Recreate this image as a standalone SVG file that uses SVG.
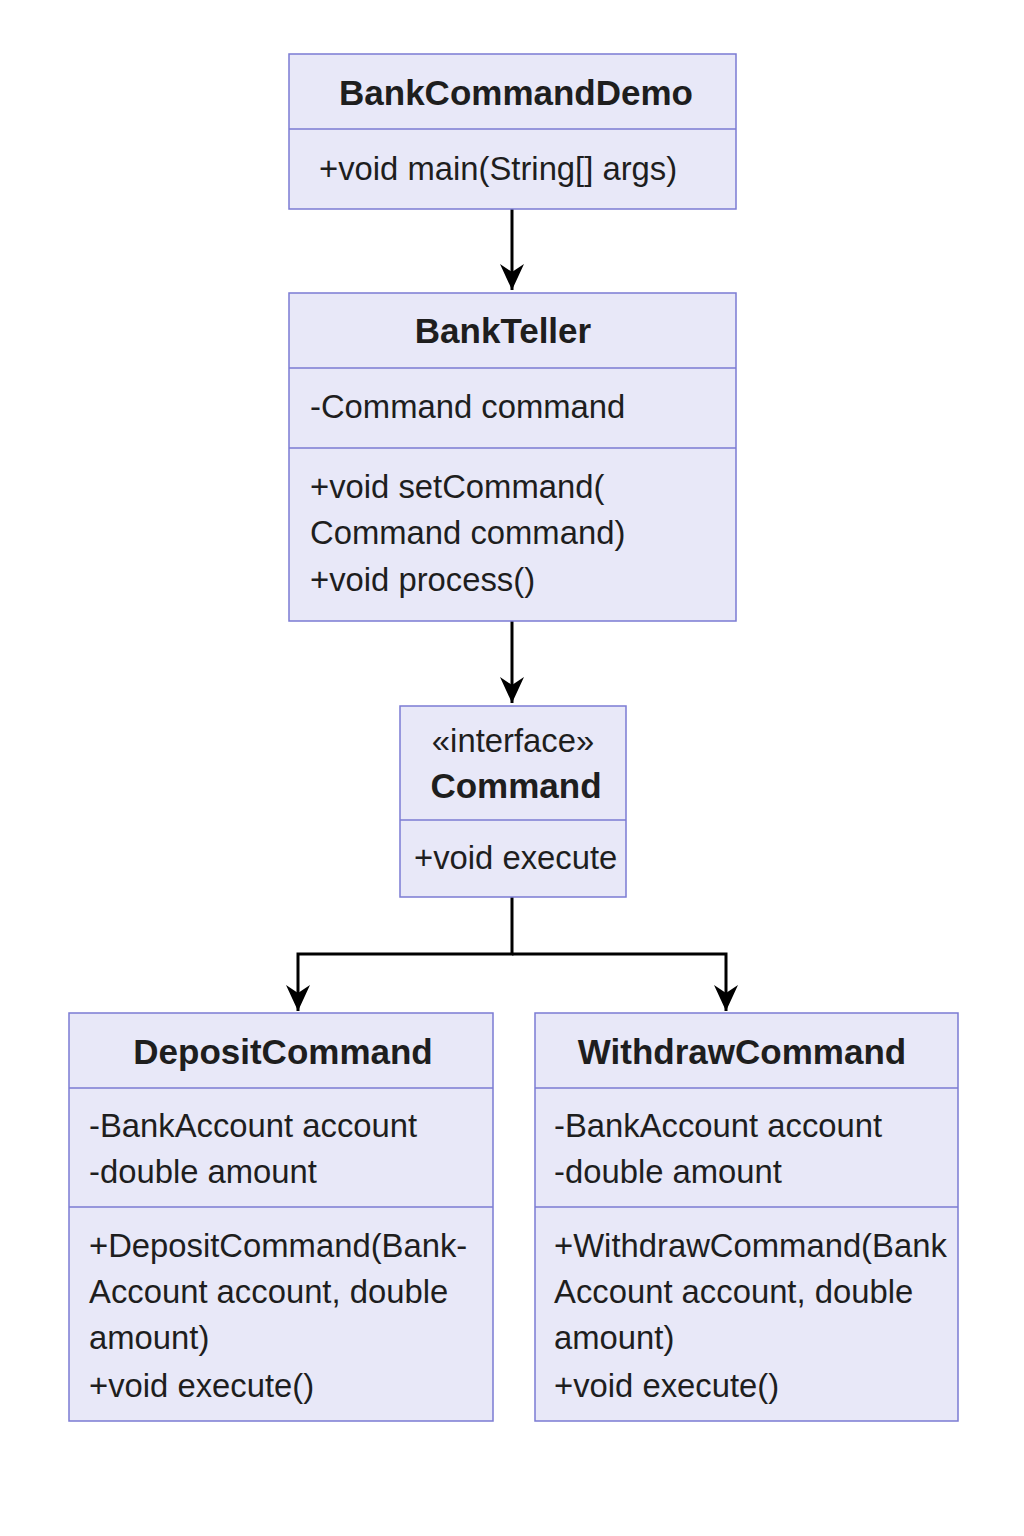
<svg xmlns="http://www.w3.org/2000/svg" width="1024" height="1536" viewBox="0 0 1024 1536">
<style>
.box{fill:#E8E8F8;stroke:#7B7BD3;stroke-width:1.5}
.div{stroke:#7B7BD3;stroke-width:1.5}
.t{font-family:"Liberation Sans",Arial,sans-serif;fill:#1E1E1E}
.b{font-size:35px;font-weight:bold;text-anchor:middle}
.r{font-size:32.8px}
.c{fill:none;stroke:#000;stroke-width:3}
</style>
<defs>
<marker id="ah" markerUnits="userSpaceOnUse" markerWidth="32" markerHeight="32" viewBox="-29 -16 32 32" refX="0" refY="0" orient="auto">
<path d="M0,0 L-26,-12 L-18,0 L-26,12 Z" fill="#000"/>
</marker>
</defs>
<rect width="1024" height="1536" fill="#FFFFFF"/>
<g id="connectors">
<line class="c" x1="512" y1="209" x2="512" y2="290" marker-end="url(#ah)"/>
<line class="c" x1="512" y1="621" x2="512" y2="703" marker-end="url(#ah)"/>
<path class="c" d="M512,897 V954 H298 V1011" marker-end="url(#ah)"/>
<path class="c" d="M512,954 H726 V1011" marker-end="url(#ah)"/>
</g>
<g id="BankCommandDemo">
<rect class="box" x="289" y="54" width="447" height="155"/>
<line class="div" x1="289" y1="129" x2="736" y2="129"/>
<text class="t b" x="516" y="105">BankCommandDemo</text>
<text class="t r" x="319" y="180">+void main(String[] args)</text>
</g>
<g id="BankTeller">
<rect class="box" x="289" y="293" width="447" height="328"/>
<line class="div" x1="289" y1="368" x2="736" y2="368"/>
<line class="div" x1="289" y1="448" x2="736" y2="448"/>
<text class="t b" x="503" y="343">BankTeller</text>
<text class="t r" x="310" y="418">-Command command</text>
<text class="t r" x="310" y="498">+void setCommand(</text>
<text class="t r" x="310" y="544">Command command)</text>
<text class="t r" x="310" y="591">+void process()</text>
</g>
<g id="Command">
<rect class="box" x="400" y="706" width="226" height="191"/>
<line class="div" x1="400" y1="820" x2="626" y2="820"/>
<text class="t r" x="513" y="752" text-anchor="middle">«interface»</text>
<text class="t b" x="516" y="798">Command</text>
<text class="t r" x="414" y="869">+void execute</text>
</g>
<g id="DepositCommand">
<rect class="box" x="69" y="1013" width="424" height="408"/>
<line class="div" x1="69" y1="1088" x2="493" y2="1088"/>
<line class="div" x1="69" y1="1207" x2="493" y2="1207"/>
<text class="t b" x="283" y="1064">DepositCommand</text>
<text class="t r" x="89" y="1137">-BankAccount account</text>
<text class="t r" x="89" y="1183">-double amount</text>
<text class="t r" x="89" y="1257">+DepositCommand(Bank-</text>
<text class="t r" x="89" y="1303">Account account, double</text>
<text class="t r" x="89" y="1349">amount)</text>
<text class="t r" x="89" y="1397">+void execute()</text>
</g>
<g id="WithdrawCommand">
<rect class="box" x="535" y="1013" width="423" height="408"/>
<line class="div" x1="535" y1="1088" x2="958" y2="1088"/>
<line class="div" x1="535" y1="1207" x2="958" y2="1207"/>
<text class="t b" x="742" y="1064">WithdrawCommand</text>
<text class="t r" x="554" y="1137">-BankAccount account</text>
<text class="t r" x="554" y="1183">-double amount</text>
<text class="t r" x="554" y="1257">+WithdrawCommand(Bank</text>
<text class="t r" x="554" y="1303">Account account, double</text>
<text class="t r" x="554" y="1349">amount)</text>
<text class="t r" x="554" y="1397">+void execute()</text>
</g>
</svg>
